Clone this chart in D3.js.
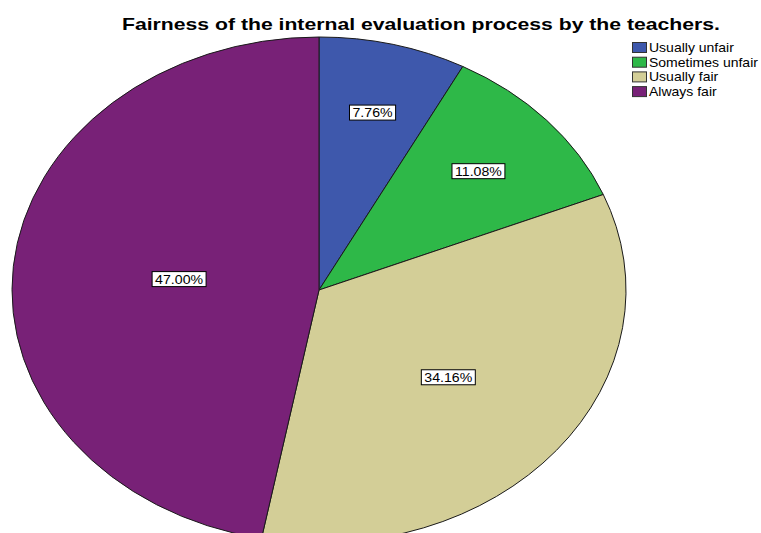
<!DOCTYPE html>
<html><head><meta charset="utf-8">
<script src="https://cdn.jsdelivr.net/npm/d3@7"></script>
<style>body{margin:0;background:#fff}svg{display:block}</style>
</head><body><svg id="c" width="761" height="533"></svg>
<script>
const categories = ["Usually unfair","Sometimes unfair","Usually fair","Always fair"];
const values = [7.76, 11.08, 34.16, 47.00];
const colors = ["#3e58ac","#2eb848","#d3ce97","#782177"];
const title = "Fairness of the internal evaluation process by the teachers.";

const FONT = "Liberation Sans, Arial, sans-serif";
const svg = d3.select("#c");
const cx = 319, cy = 290, rx = 307, ry = 253;
const R = 100;

svg.append("text").attr("x", 122).attr("y", 30)
  .attr("font-family", FONT).attr("font-weight","bold")
  .attr("font-size", 17).attr("fill","#000")
  .attr("textLength", 598).attr("lengthAdjust","spacingAndGlyphs").text(title);

const pie = d3.pie().sort(null).value(d => d);
const arcs = pie(values);
const arc = d3.arc().innerRadius(0).outerRadius(R);
const total = d3.sum(values);

const g = svg.append("g").attr("transform", `translate(${cx},${cy}) scale(${rx/R},${ry/R})`);
g.selectAll("path").data(arcs).join("path")
  .attr("d", arc).attr("fill", (d,i) => colors[i])
  .attr("stroke", "#1a1a1a").attr("stroke-width", 1)
  .attr("vector-effect","non-scaling-stroke");

// labels
const lg = svg.append("g");
const fmt = d3.format(".2f");
let probe = lg.append("text").attr("font-family",FONT).attr("font-size",13).text("47.00%");
const lsx = 48 / probe.node().getComputedTextLength();
probe.remove();
arcs.forEach((d,i) => {
  const mid = (d.startAngle + d.endAngle)/2;
  const f = values[i]/total;
  const r = 0.775 - 0.675*f;
  const x = cx + rx*r*Math.sin(mid), y = cy - ry*r*Math.cos(mid);
  const lab = lg.append("g").attr("transform", `translate(${x},${y})`);
  const rect = lab.append("rect");
  const t = lab.append("text").attr("x", 0).attr("y", 4.5).attr("text-anchor","middle")
    .attr("transform", `scale(${lsx},1)`)
    .attr("font-family",FONT).attr("font-size", 13)
    .text(fmt(values[i]) + "%");
  const w = t.node().getComputedTextLength()*lsx + 6;
  rect.attr("x", -w/2).attr("y", -7.5).attr("width", w).attr("height", 15)
    .attr("fill","#fff").attr("stroke","#000").attr("stroke-width",1);
});

// legend
const leg = svg.append("g").attr("transform","translate(632,42)");
probe = leg.append("text").attr("font-family",FONT).attr("font-size",12.5).text("Sometimes unfair");
const gsx = 109 / probe.node().getComputedTextLength();
probe.remove();
categories.forEach((c,i) => {
  const row = leg.append("g").attr("transform",`translate(0,${i*14.7})`);
  row.append("rect").attr("x",0.5).attr("y",0.5).attr("width",14).attr("height",10)
    .attr("fill",colors[i]).attr("stroke","#333").attr("stroke-width",1);
  row.append("text").attr("x",17/gsx).attr("y",10)
    .attr("transform",`scale(${gsx},1)`)
    .attr("font-family",FONT).attr("font-size",12.5).text(c);
});
</script></body></html>
